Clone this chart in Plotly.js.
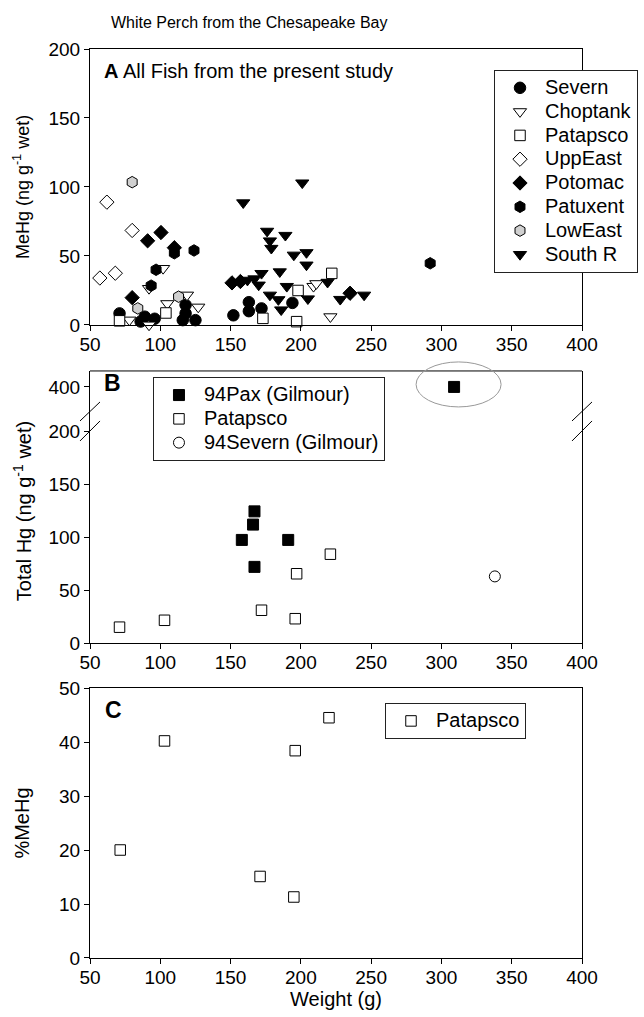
<!DOCTYPE html>
<html>
<head>
<meta charset="utf-8">
<script src="https://cdn.plot.ly/plotly-3.0.1.min.js"></script>
<style>html,body{margin:0;padding:0;background:#fff;}#chart{width:644px;height:1017px;}</style>
</head>
<body>
<div id="chart"></div>
<script>
// ---------- Panel A: MeHg (ng/g wet) vs weight (g) ----------
const severnW     = [71, 86, 89, 96, 118, 118, 116, 125, 152, 163, 163, 172, 194];
const severnMeHg  = [8.4, 2.5, 6, 4.5, 14.5, 8.4, 3.5, 3.5, 7, 16.5, 10, 12, 16];
const choptankW    = [78, 92, 92, 102, 105, 119, 127, 209, 211, 221];
const choptankMeHg = [3.6, 0, 26.5, 41, 15.5, 21.7, 13, 28, 30, 6];
const patapscoW    = [71, 104, 173, 197, 198, 222];
const patapscoMeHg = [3, 8.7, 4.8, 2.4, 25, 37.4];
const uppEastW     = [57, 62, 68, 80];
const uppEastMeHg  = [34, 89, 37.5, 68.5];
const potomacW     = [80, 91, 100.5, 110, 151, 157, 235];
const potomacMeHg  = [19.8, 61, 67, 56, 30.5, 31.5, 23];
const patuxentW    = [93.5, 97, 110, 124, 292];
const patuxentMeHg = [28.5, 40, 52, 54, 44.7];
const lowEastW     = [80, 84, 113];
const lowEastMeHg  = [103.5, 12, 20.5];
const southRW      = [159, 201, 176, 189, 178, 179, 195, 204, 204, 172, 185, 170, 190, 178, 184, 186, 205, 219, 162, 167, 228, 245];
const southRMeHg   = [88.6, 103, 68, 65, 61, 55.6, 50.7, 52.5, 43.5, 37.4, 38.6, 29, 28, 21.7, 18.4, 11, 19, 31, 32.5, 33.5, 18.6, 21.7];

// ---------- Panel B: Total Hg (ng/g wet) vs weight (g) ----------
const pax94W        = [158, 166, 167, 167, 191, 309];
const pax94Hg       = [97.5, 112, 124.5, 72, 97.5, 400];
const patapscoTotW  = [71, 103, 172, 196, 197, 221];
const patapscoTotHg = [15, 21.5, 31, 23, 65.5, 84];
const severn94W     = [338];
const severn94Hg    = [63];

// ---------- Panel C: %MeHg vs weight (g) ----------
const pctW    = [71.5, 103, 171, 195, 196, 220];
const pctMeHg = [20, 40.2, 15.1, 11.3, 38.4, 44.5];

// tick labels
const xTicks  = [50, 100, 150, 200, 250, 300, 350, 400];
const yTicksA = [0, 50, 100, 150, 200];
const yTicksBlow = [0, 50, 100, 150, 200];
const yTicksBhigh = [400];
const yTicksC = [0, 10, 20, 30, 40, 50];

// ---------- layout geometry ----------
const FONT = 'Liberation Sans, Arial, Helvetica, sans-serif';
const xRange = [50, 400];
const domA = [0.6964, 1];
const domBlow = [0.3465, 0.5864];
const domBhigh = [0.5864, 0.6458];
const domC = [0, 0.2970];
const rangeBlow = [0, 206.2];
const rangeBhigh = [364, 415.1];

function lbl(s) { return '<span style="font-size:20px">' + s + '</span>'; }

function mk(x, y, symbol, fill, size, name, xa, ya, legend, showlegend) {
  return {
    type: 'scatter', mode: 'markers', x: x, y: y, name: lbl(name),
    xaxis: xa, yaxis: ya, legend: legend, cliponaxis: false,
    showlegend: showlegend !== false,
    marker: {symbol: symbol, size: size, color: fill, line: {color: '#000', width: 1}}
  };
}

const traces = [
  mk(severnW, severnMeHg, 'circle', '#000', 11.5, 'Severn', 'x', 'y', 'legend'),
  mk(choptankW, choptankMeHg, 'triangle-down', '#fff', 11.5, 'Choptank', 'x', 'y', 'legend'),
  mk(patapscoW, patapscoMeHg, 'square', '#fff', 10.5, 'Patapsco', 'x', 'y', 'legend'),
  mk(uppEastW, uppEastMeHg, 'diamond', '#fff', 11, 'UppEast', 'x', 'y', 'legend'),
  mk(potomacW, potomacMeHg, 'diamond', '#000', 11, 'Potomac', 'x', 'y', 'legend'),
  mk(patuxentW, patuxentMeHg, 'hexagon', '#000', 11.5, 'Patuxent', 'x', 'y', 'legend'),
  mk(lowEastW, lowEastMeHg, 'hexagon', '#d0d0d0', 11.5, 'LowEast', 'x', 'y', 'legend'),
  mk(southRW, southRMeHg, 'triangle-down', '#000', 11.5, 'South R', 'x', 'y', 'legend')
];

// Panel B: split 94Pax between lower and upper (broken) axis parts
const paxLoW = [], paxLoHg = [], paxHiW = [], paxHiHg = [];
pax94W.forEach(function (w, i) {
  if (pax94Hg[i] <= rangeBlow[1]) { paxLoW.push(w); paxLoHg.push(pax94Hg[i]); }
  else { paxHiW.push(w); paxHiHg.push(pax94Hg[i]); }
});
traces.push(mk(paxLoW, paxLoHg, 'square', '#000', 11, '94Pax (Gilmour)', 'x2', 'y2', 'legend2'));
traces.push(mk(paxHiW, paxHiHg, 'square', '#000', 11, '94Pax (Gilmour)', 'x2', 'y3', 'legend2', false));
traces.push(mk(patapscoTotW, patapscoTotHg, 'square', '#fff', 10.5, 'Patapsco', 'x2', 'y2', 'legend2'));
traces.push(mk(severn94W, severn94Hg, 'circle', '#fff', 11, '94Severn (Gilmour)', 'x2', 'y2', 'legend2'));

// Panel C
traces.push(mk(pctW, pctMeHg, 'square', '#fff', 10.5, 'Patapsco', 'x3', 'y4', 'legend3'));

const tickFont = {family: FONT, size: 19, color: '#000'};
function xax(anchor, extra) {
  return Object.assign({
    domain: [0, 1], anchor: anchor, range: xRange, tickvals: xTicks,
    ticks: 'outside', ticklen: 5, tickwidth: 1, tickcolor: '#000', ticklabelstandoff: -3,
    showline: true, linecolor: '#000', linewidth: 1, showgrid: false, zeroline: false,
    tickfont: tickFont
  }, extra || {});
}
function yax(domain, range, tickvals, anchor, extra) {
  return Object.assign({
    domain: domain, anchor: anchor, range: range, tickvals: tickvals,
    ticks: 'outside', ticklen: 5, tickwidth: 1, tickcolor: '#000',
    showline: true, linecolor: '#000', linewidth: 1, mirror: true,
    showgrid: false, zeroline: false, tickfont: tickFont
  }, extra || {});
}

const legendBase = {
  bgcolor: '#fff', bordercolor: '#222', borderwidth: 1,
  font: {family: FONT, size: 16, color: '#000'},
  xref: 'paper', yref: 'paper', xanchor: 'left', yanchor: 'top',
  itemwidth: 40, traceorder: 'normal'
};

// Break marker helper (pixel-sized slashes anchored at the axis break)
function slash(xa, dy0, dy1) {
  return {type: 'line', xref: 'paper', yref: 'paper',
    xsizemode: 'pixel', ysizemode: 'pixel', xanchor: xa, yanchor: domBlow[1],
    x0: -10, x1: 10, y0: dy0, y1: dy1, line: {color: '#000', width: 1}};
}

// ellipse around the 94Pax outlier (in domain fractions of its sub-axes)
const outW = paxHiW[0], outHg = paxHiHg[0];
const outXf = (outW - xRange[0]) / (xRange[1] - xRange[0]);
const outYf = (outHg - rangeBhigh[0]) / (rangeBhigh[1] - rangeBhigh[0]);

const layout = {
  width: 644, height: 1017,
  margin: {l: 90, r: 62, t: 49, b: 59, autoexpand: false},
  paper_bgcolor: '#fff', plot_bgcolor: '#fff',
  font: {family: FONT, size: 19, color: '#000'},
  title: {text: 'White Perch from the Chesapeake Bay', x: 0.387, xref: 'container', xanchor: 'center',
          y: 0.978, yref: 'container', yanchor: 'middle', font: {family: FONT, size: 16, color: '#000'}},
  xaxis: xax('y', {mirror: true}),
  yaxis: yax(domA, [0, 200], yTicksA, 'x', {title: {text: 'MeHg (ng g<sup>-1</sup> wet)', standoff: 14, font: {family: FONT, size: 18}}}),
  xaxis2: xax('y2'),
  yaxis2: yax(domBlow, rangeBlow, yTicksBlow, 'x2'),
  yaxis3: yax(domBhigh, rangeBhigh, yTicksBhigh, 'x2'),
  xaxis3: xax('y4', {mirror: true, title: {text: 'Weight (g)', standoff: 4, font: {family: FONT, size: 20}}}),
  yaxis4: yax(domC, [0, 50], yTicksC, 'x3', {title: {text: '%MeHg', standoff: 24, font: {family: FONT, size: 20}}}),
  legend: Object.assign({}, legendBase, {x: (494 - 90) / 492, y: 0.977}),
  legend2: Object.assign({}, legendBase, {x: 0.128, y: 0.639}),
  legend3: Object.assign({}, legendBase, {x: 0.5996, y: 0.2805}),
  shapes: [
    {type: 'line', xref: 'paper', yref: 'paper', x0: 0, x1: 1, y0: domBhigh[1], y1: domBhigh[1], line: {color: '#000', width: 1}},
    slash(0, 4, 23), slash(0, -16, 4),
    slash(1, 4, 23), slash(1, -16, 4),
    {type: 'circle', xref: 'x2 domain', yref: 'y3 domain', xsizemode: 'pixel', ysizemode: 'pixel',
     xanchor: outXf, yanchor: outYf, x0: -38, x1: 47, y0: -20, y1: 25,
     line: {color: '#999', width: 1}}
  ],
  annotations: [
    {text: '<b>A</b> All Fish from the present study', xref: 'paper', yref: 'paper', x: 0.024, y: 0.9758,
     xanchor: 'left', yanchor: 'middle', showarrow: false, font: {family: FONT, size: 20, color: '#000'}},
    {text: '<b>B</b>', xref: 'paper', yref: 'paper', x: 0.024, y: 0.6326,
     xanchor: 'left', yanchor: 'middle', showarrow: false, font: {family: FONT, size: 23, color: '#000'}},
    {text: '<b>C</b>', xref: 'paper', yref: 'paper', x: 0.026, y: 0.2728,
     xanchor: 'left', yanchor: 'middle', showarrow: false, font: {family: FONT, size: 23, color: '#000'}},
    {text: 'Total Hg (ng g<sup>-1</sup> wet)', xref: 'paper', yref: 'paper', x: -0.138, y: 0.4917,
     xanchor: 'center', yanchor: 'middle', textangle: -90, showarrow: false,
     font: {family: FONT, size: 20, color: '#000'}}
  ]
};

Plotly.newPlot('chart', traces, layout, {displayModeBar: false, staticPlot: true});
</script>
</body>
</html>
